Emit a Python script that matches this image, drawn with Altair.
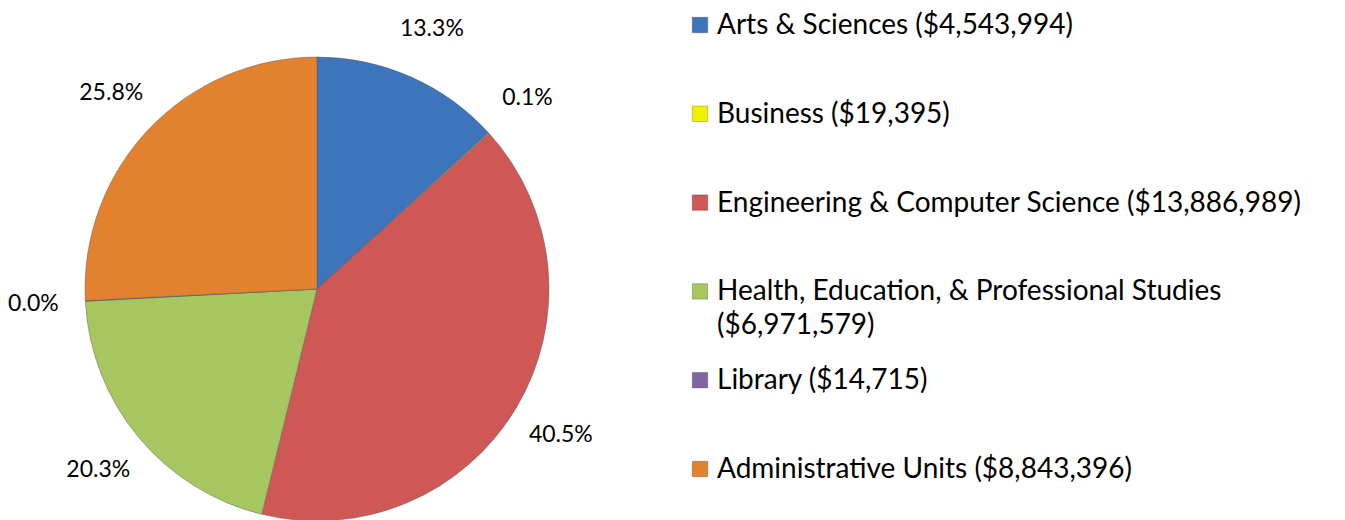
import altair as alt
import pandas as pd

categories = [
    "Arts & Sciences",
    "Business",
    "Engineering & Computer Science",
    "Health, Education, & Professional Studies",
    "Library",
    "Administrative Units",
]
amounts = [4543994, 19395, 13886989, 6971579, 14715, 8843396]
colors = ["#3d74bc", "#f0f000", "#cf5755", "#a6c660", "#8064a2", "#e2812e"]
label_sep = [" ", " ", " ", "\n", " ", " "]

total = sum(amounts)
df = pd.DataFrame({
    "idx": list(range(len(categories))),
    "category": categories,
    "amount": amounts,
    "pct": [f"{a / total * 100:.1f}%" for a in amounts],
    "legend": [f"{c}{s}(${a:,})" for c, s, a in zip(categories, label_sep, amounts)],
})

color_scale = alt.Scale(domain=categories, range=colors)

arcs = alt.Chart(df).mark_arc(
    outerRadius=232, stroke="#5a5a5a", strokeWidth=1, strokeOpacity=0.45
).encode(
    theta=alt.Theta("amount:Q", stack=True),
    order=alt.Order("idx:Q"),
    color=alt.Color("category:N", scale=color_scale, legend=None),
)

labels = alt.Chart(df).mark_text(
    radius=284, font="Lato", fontSize=23, color="#000000"
).encode(
    theta=alt.Theta("amount:Q", stack=True),
    order=alt.Order("idx:Q"),
    text="pct:N",
)

pie = alt.layer(arcs, labels).properties(width=616, height=562)

yenc = alt.Y(
    "category:N", sort=categories, axis=None,
    scale=alt.Scale(type="point", range=[17, 461], padding=0),
)

swatches = alt.Chart(df).mark_square(size=240, opacity=1, stroke="#00000040", strokeWidth=0.8).encode(
    y=yenc,
    x=alt.value(75),
    color=alt.Color("category:N", scale=color_scale, legend=None),
)

texts = alt.Chart(df).mark_text(
    align="left", baseline="top", dy=-13, font="Lato", fontSize=28,
    lineBreak="\n", lineHeight=34, color="#000000",
).encode(
    y=yenc,
    x=alt.value(92),
    text="legend:N",
)

legend = alt.layer(swatches, texts).properties(width=705, height=562)

chart = alt.hconcat(pie, legend, spacing=0).properties(padding=0).configure_view(stroke=None)

chart.save("out.html", embed_options={"renderer": "svg", "actions": False})
